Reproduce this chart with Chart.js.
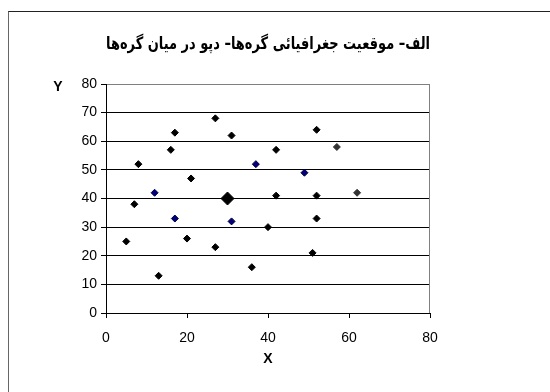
<!DOCTYPE html>
<html>
<head>
<meta charset="utf-8">
<script src="https://cdn.jsdelivr.net/npm/chart.js@4"></script>
<style>
  body { margin: 0; background: #fff; }
  #wrap { position: relative; width: 550px; height: 392px; overflow: hidden; }
  #frame { position: absolute; left: 8px; top: 11px; width: 600px; height: 420px;
           border-left: 1px solid #666; border-top: 1px solid #222; }
  #plot { position: absolute; left: 0; top: 0; }
</style>
</head>
<body>
<div id="wrap">
  <div id="frame"></div>
  <canvas id="plot" width="550" height="392"></canvas>
</div>
<script>
let ctx = document.getElementById('plot').getContext('2d');

// node coordinates
let nodeX = [8, 17, 16, 21, 27, 31, 7, 5, 20, 27, 13, 36, 40, 42, 42, 52, 52, 52, 51];
let nodeY = [52, 63, 57, 47, 68, 62, 38, 25, 26, 23, 13, 16, 30, 41, 57, 64, 41, 33, 21];
let blueX = [12, 17, 31, 37, 49];
let blueY = [42, 33, 32, 52, 49];
let greyX = [57, 62];
let greyY = [58, 42];
let depotX = [30];
let depotY = [40];
let xTicks = [0, 20, 40, 60, 80];
let yTicks = [0, 10, 20, 30, 40, 50, 60, 70, 80];
let titleText = 'الف– موقعیت جغرافیائی گره‌ها– دپو در میان گره‌ها';

function toPoints(xs, ys) {
    return xs.map(function (x, i) {
        return {x: x, y: ys[i]};
    });
}

//Draws the grey plot frame and the horizontal "Y" label
const extras = {
    id: 'extras',
    afterDraw(chart) {
        const a = chart.chartArea;
        const c = chart.ctx;
        c.save();
        c.strokeStyle = '#808080';
        c.lineWidth = 1;
        c.beginPath();
        c.moveTo(a.right - 0.5, a.top);
        c.lineTo(a.right - 0.5, a.bottom);
        c.stroke();
        c.fillStyle = '#000';
        c.font = 'bold 14px "Liberation Sans", Arial, sans-serif';
        c.textAlign = 'center';
        c.textBaseline = 'middle';
        c.fillText('Y', a.left - 48, a.top + 3);
        c.restore();
    }
};

var data = {
    datasets: [
        {
            data: toPoints(nodeX, nodeY),
            backgroundColor: '#000',
            borderColor: '#000',
            pointStyle: 'rectRot',
            pointRadius: 3.5,
            borderWidth: 1
        },
        {
            data: toPoints(blueX, blueY),
            backgroundColor: '#000080',
            borderColor: '#000033',
            pointStyle: 'rectRot',
            pointRadius: 3.5,
            borderWidth: 1
        },
        {
            data: toPoints(greyX, greyY),
            backgroundColor: '#333',
            borderColor: '#333',
            pointStyle: 'rectRot',
            pointRadius: 3.5,
            borderWidth: 1
        },
        {
            data: toPoints(depotX, depotY),
            backgroundColor: '#000',
            borderColor: '#000',
            pointStyle: 'rectRot',
            pointRadius: 6.5,
            borderWidth: 1
        }
    ]
};

var tickFont = {family: '"Liberation Sans", Arial, sans-serif', size: 14};

var options = {
    responsive: false,
    animation: false,
    layout: {padding: {left: 0, right: 120, top: 0, bottom: 0}},
    plugins: {
        legend: {display: false},
        tooltip: {enabled: false},
        title: {
            display: true,
            text: titleText,
            fullSize: false,
            color: '#000',
            font: {family: '"DejaVu Sans", sans-serif', size: 17, weight: 'bold'},
            padding: {top: 34, bottom: 29.6}
        }
    },
    scales: {
        x: {
            type: 'linear',
            min: 0,
            max: 80,
            afterBuildTicks: function (scale) {
                scale.ticks = xTicks.map(function (v) { return {value: v}; });
            },
            afterFit: function (scale) { scale.height = 79; },
            grid: {drawOnChartArea: false, drawTicks: true, tickLength: 5, tickColor: '#000'},
            border: {color: '#000', width: 1},
            ticks: {color: '#000', font: tickFont, padding: 12, maxRotation: 0},
            title: {
                display: true,
                text: 'X',
                color: '#000',
                font: {family: '"Liberation Sans", Arial, sans-serif', size: 14, weight: 'bold'},
                padding: {top: 0, bottom: 24}
            }
        },
        y: {
            type: 'linear',
            min: 0,
            max: 80,
            afterBuildTicks: function (scale) {
                scale.ticks = yTicks.map(function (v) { return {value: v}; });
            },
            afterFit: function (scale) { scale.width = 106; },
            grid: {
                color: function (c) { return c.tick && c.tick.value === 80 ? '#808080' : '#000'; },
                tickColor: '#000',
                tickLength: 5
            },
            border: {color: '#000', width: 1},
            ticks: {color: '#000', font: tickFont, padding: 4}
        }
    }
};

new Chart(ctx, {
    type: 'scatter',
    data: data,
    options: options,
    plugins: [extras]
});
</script>
</body>
</html>
